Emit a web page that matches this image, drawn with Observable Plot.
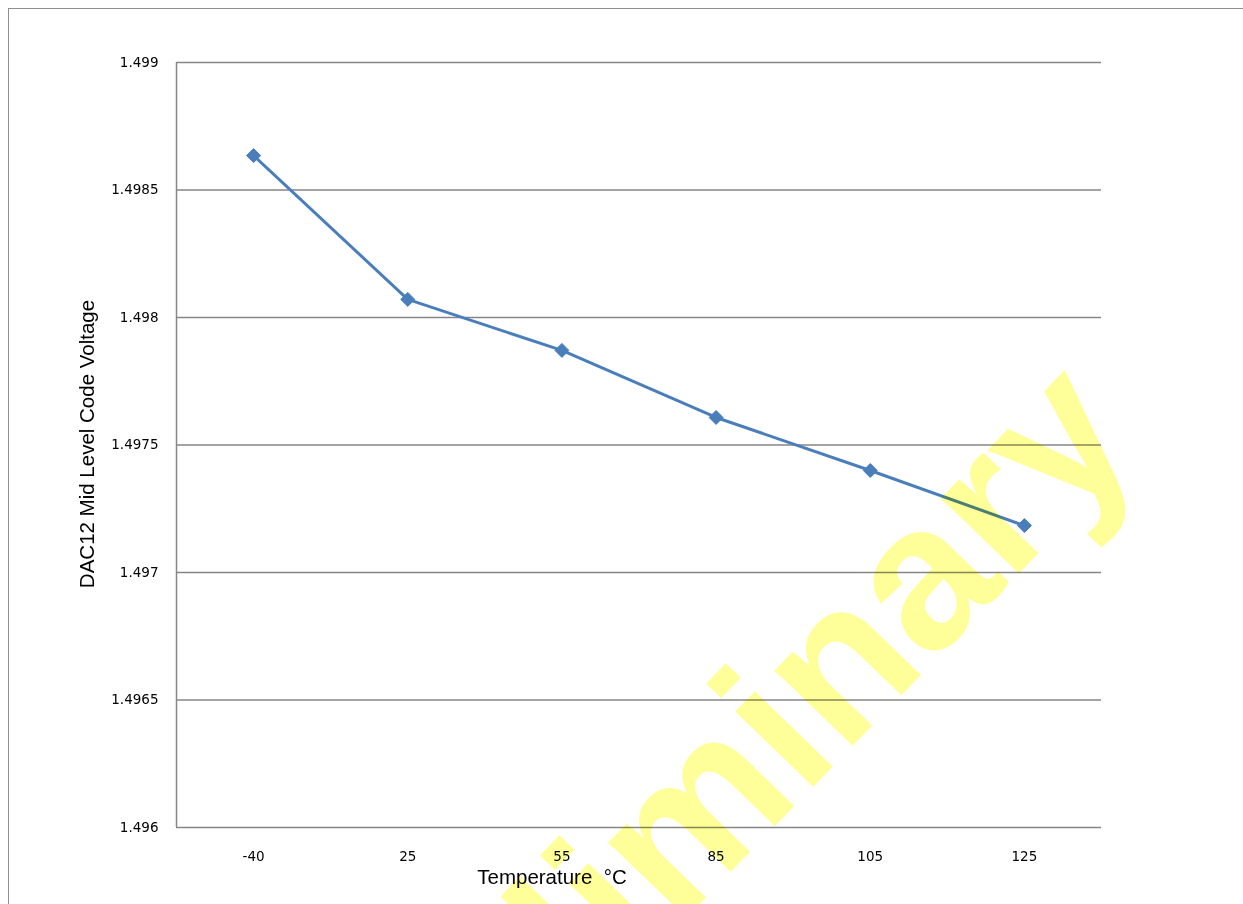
<!DOCTYPE html>
<html>
<head>
<meta charset="utf-8">
<script src="https://cdn.jsdelivr.net/npm/d3@7"></script>
<script src="https://cdn.jsdelivr.net/npm/@observablehq/plot@0.6"></script>
<style>
  html, body { margin: 0; padding: 0; background: #fff; overflow: hidden; }
  #wrap { position: relative; width: 1243px; height: 904px; }
  #frame { position: absolute; left: 8px; top: 8px; width: 1300px; height: 1000px;
           border: 1.5px solid #8f8f8f; box-sizing: border-box; pointer-events: none; }
  #chart { position: absolute; left: 0; top: 0; }
</style>
</head>
<body>
<div id="wrap"><div id="chart"></div><div id="frame"></div></div>
<script>
const temps = ["-40", "25", "55", "85", "105", "125"];
const voltages = [1.498635, 1.498071, 1.497871, 1.497608, 1.4974, 1.497184];
const yTicks = [1.496, 1.4965, 1.497, 1.4975, 1.498, 1.4985, 1.499];
const yTickLabels = ["1.496", "1.4965", "1.497", "1.4975", "1.498", "1.4985", "1.499"];
const xTitle = "Temperature  °C";
const yTitle = "DAC12 Mid Level Code Voltage";
const watermark = "Preliminary";

const idx = d3.range(temps.length);
const data = idx.map(i => ({i, t: temps[i], v: voltages[i]}));

const chart = Plot.plot({
  width: 1243,
  height: 904,
  marginLeft: 176,
  marginRight: 142,
  marginTop: 62,
  marginBottom: 77,
  style: {fontFamily: "DejaVu Sans", fontSize: "13.5px", color: "#000", background: "transparent"},
  x: {domain: [-0.5, temps.length - 0.5], ticks: idx, tickFormat: i => temps[i], tickSize: 0, tickPadding: 24, label: null},
  y: {domain: [1.496, 1.499], ticks: yTicks, tickFormat: d => yTickLabels[yTicks.indexOf(d)], tickSize: 0, tickPadding: 18, label: null},
  marks: [
    Plot.gridY(yTicks, {stroke: "#868686", strokeOpacity: 1, strokeWidth: 1.5}),
    Plot.ruleX([-0.5], {stroke: "#868686", strokeWidth: 1.5}),
    Plot.line(data, {x: "i", y: "v", stroke: "#4a7ebb", strokeWidth: 3}),
    Plot.dot(data, {x: "i", y: "v", symbol: "diamond2", r: 6.3, fill: "#4a7ebb", stroke: "#4a7ebb", strokeWidth: 1}),
    Plot.text([xTitle], {frameAnchor: "bottom", dx: -87, dy: 50, text: d => d, lineAnchor: "middle", textAnchor: "middle",
      fontFamily: "Liberation Sans", fontSize: 20.5, fill: "#000"}),
    Plot.text([yTitle], {frameAnchor: "left", dx: -89, dy: -1, rotate: -90, text: d => d, lineAnchor: "middle", textAnchor: "middle",
      fontFamily: "Liberation Sans", fontSize: 20.5, fill: "#000"}),
    Plot.text([watermark], {frameAnchor: "top-left", dx: 708 - 176, dy: 800 - 62, rotate: -46, text: d => d,
      lineAnchor: "middle", textAnchor: "middle", fontFamily: "Liberation Sans", fontWeight: "bold",
      fontSize: 205, fill: "#ffff99", mixBlendMode: "multiply"})
  ]
});
document.getElementById("chart").appendChild(chart);
</script>
</body>
</html>
